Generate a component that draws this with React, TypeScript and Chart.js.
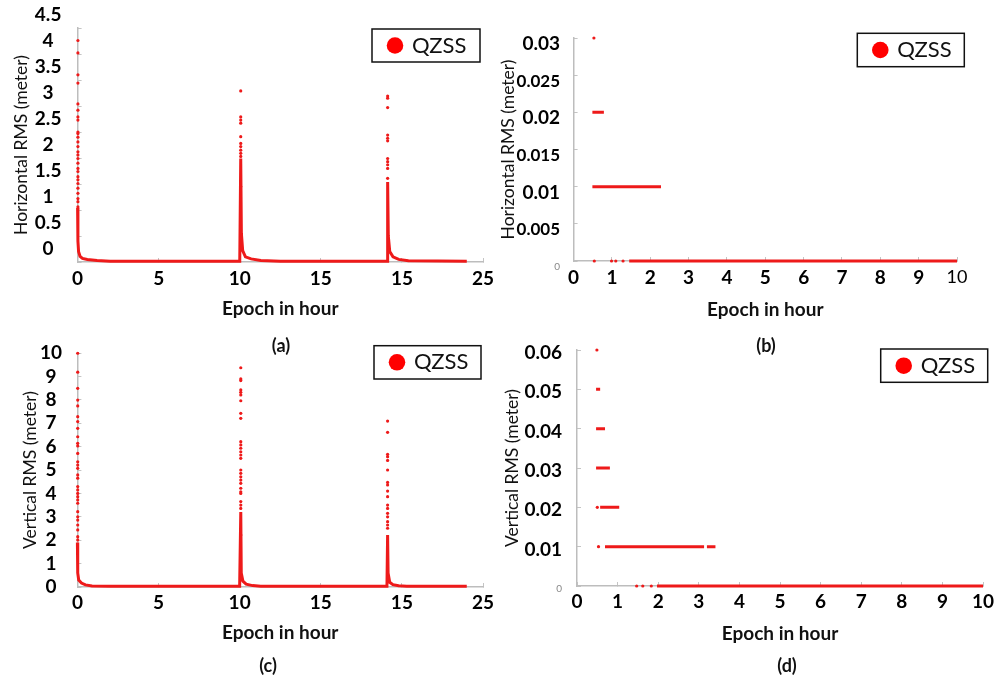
import React, { useEffect, useRef } from "react";
import { Chart, registerables } from "chart.js";

Chart.register(...registerables);

// ---------------- data ----------------
// shared x-axis ticks
const xTicksDay = [0, 5, 10, 15, 20, 25];
const xTickLabelsDay = ["0", "5", "10", "15", "15", "25"];
const xTicksTen = [0, 1, 2, 3, 4, 5, 6, 7, 8, 9, 10];
const xTickLabelsTen = ["0", "1", "2", "3", "4", "5", "6", "7", "8", "9", "10"];

// (a) Horizontal RMS, 24 h
const aYTicks = [0, 0.5, 1, 1.5, 2, 2.5, 3, 3.5, 4, 4.5];
const aYTickLabels = ["0", "0.5", "1", "1.5", "2", "2.5", "3", "3.5", "4", "4.5"];
const aCurveHours = [0, 0.02, 0.06, 0.15, 0.3, 0.6, 1.2, 2.0, 10.0, 10.06, 10.1, 10.18, 10.35, 10.7, 11.3, 12.5, 19.08, 19.12, 19.16, 19.25, 19.45, 19.8, 20.4, 24.0];
const aCurveValues = [1.04, 0.4, 0.2, 0.11, 0.07, 0.05, 0.03, 0.015, 0.015, 1.99, 0.55, 0.22, 0.1, 0.06, 0.03, 0.015, 0.015, 1.54, 0.5, 0.2, 0.1, 0.05, 0.025, 0.015];
const aSpikeHours = [0.02, 10.06, 19.12];
const aSpike0 = [4.26, 4.02, 3.6, 3.44, 3.04, 2.92, 2.79, 2.73, 2.5, 2.47, 2.4, 2.31, 2.22, 2.12, 2.06, 1.99, 1.9, 1.8, 1.74, 1.64, 1.58, 1.51, 1.42, 1.32, 1.22, 1.16, 1.06];
const aSpike1 = [3.29, 2.79, 2.73, 2.67, 2.41, 2.28, 2.22, 2.15, 2.09, 2.03, 1.45];
const aSpike2 = [3.19, 3.15, 2.97, 2.44, 2.38, 2.33, 1.99, 1.93, 1.87, 1.8, 1.61];

// (b) Horizontal RMS, first 10 h
const bYTicks = [0, 0.005, 0.01, 0.015, 0.02, 0.025, 0.03];
const bYTickLabels = ["0", "0.005", "0.01", "0.015", "0.02", "0.025", "0.03"];
const bSegLevels = [0.02, 0.01, 0];
const bSegStart = [0.49, 0.49, 1.45];
const bSegEnd = [0.79, 2.28, 10];
const bDotHours = [0.53, 0.54, 0.99, 1.1, 1.29];
const bDotValues = [0.03, 0, 0, 0, 0];

// (c) Vertical RMS, 24 h
const cYTicks = [0, 1, 2, 3, 4, 5, 6, 7, 8, 9, 10];
const cYTickLabels = ["0", "1", "2", "3", "4", "5", "6", "7", "8", "9", "10"];
const cCurveHours = [0, 0.02, 0.08, 0.25, 0.5, 0.9, 2.0, 10.0, 10.07, 10.1, 10.2, 10.4, 10.8, 11.3, 19.08, 19.12, 19.15, 19.25, 19.45, 19.8, 20.3, 24.0];
const cCurveValues = [1.9, 0.6, 0.3, 0.17, 0.09, 0.04, 0.03, 0.03, 3.2, 0.6, 0.25, 0.12, 0.06, 0.03, 0.03, 2.22, 0.6, 0.2, 0.1, 0.05, 0.03, 0.03];
const cSpikeHours = [0.02, 10.07, 19.12];
const cSpike0 = [9.99, 9.18, 8.49, 7.99, 7.74, 7.28, 7.07, 6.78, 6.42, 6.14, 6.03, 5.71, 5.35, 5.21, 5.07, 4.79, 4.65, 4.29, 4.15, 4.0, 3.86, 3.72, 3.58, 3.22, 3.0, 2.86, 2.65, 2.44, 2.15, 2.01];
const cSpike1 = [9.37, 8.89, 8.82, 8.42, 8.32, 8.21, 7.96, 7.42, 7.21, 6.21, 6.07, 5.93, 5.78, 5.64, 5.5, 5.0, 4.86, 4.71, 4.57, 4.43, 4.22, 4.07, 4.0, 3.65, 3.5, 3.36, 2.22];
const cSpike2 = [7.09, 6.61, 5.67, 5.57, 5.41, 5.0, 4.47, 4.36, 4.1, 3.86, 3.5, 3.36, 3.15, 3.0, 2.79, 2.65, 2.51];

// (d) Vertical RMS, first 10 h
const dYTicks = [0, 0.01, 0.02, 0.03, 0.04, 0.05, 0.06];
const dYTickLabels = ["0", "0.01", "0.02", "0.03", "0.04", "0.05", "0.06"];
const dSegLevels = [0.05, 0.04, 0.03, 0.02, 0.01, 0.01, 0];
const dSegStart = [0.47, 0.47, 0.47, 0.57, 0.69, 3.2, 1.97];
const dSegEnd = [0.57, 0.69, 0.81, 1.04, 3.13, 3.41, 10];
const dDotHours = [0.49, 0.5, 0.53, 1.47, 1.62, 1.83];
const dDotValues = [0.06, 0.02, 0.01, 0, 0, 0];

// ---------------- helpers ----------------
type Pt = { x: number; y: number | null };
const curve = (h: number[], v: number[]): Pt[] => h.map((x, i) => ({ x, y: v[i] }));
const spikes = (hours: number[], groups: number[][]): Pt[] =>
  groups.flatMap((g, i) => g.map((y) => ({ x: hours[i], y })));
const segments = (lv: number[], s: number[], e: number[]): Pt[] =>
  lv.flatMap((y, i) => [
    { x: s[i], y },
    { x: e[i], y },
    { x: e[i], y: null },
  ]);
const dots = (h: number[], v: number[]): Pt[] => h.map((x, i) => ({ x, y: v[i] }));

const RED = "#ee1a1a";
const FONT = "Lato, 'Open Sans', sans-serif";
const M = 40; // extra canvas margin so Chart.js never shrinks the plot area

type Box = { x: number; y: number; w: number; h: number };
type Cfg = {
  rect: Box;
  area: { l: number; t: number; r: number; b: number };
  xMax: number;
  xTicks: number[];
  xLabels: string[];
  xFont: (i: number) => any;
  yMax: number;
  yTicks: number[];
  yLabels: string[];
  yFont: (i: number) => any;
  yColor: (i: number) => string;
  yTitle: string;
  yTitlePad: number;
  yTickPad: number;
  yCross: "near" | "center";
  yLabelOffset: number;
  xTickPad: number;
  xTitlePad: number;
  line: Pt[];
  pts: Pt[];
  legend: Box;
};

const bold19 = { family: FONT, size: 19, weight: "bold" };
const bold17 = { family: FONT, size: 17, weight: "bold" };
const small0 = { family: FONT, size: 10, weight: "normal" };

const legendFrame = (box: Box) => ({
  id: "legendFrame",
  afterLayout(chart: any) {
    const lg = chart.legend;
    if (!lg) return;
    const p = lg.options.labels.padding;
    const w = lg.right - lg.left;
    const h = lg.bottom - lg.top;
    lg.left = box.x + 17 - p;
    lg.right = lg.left + w;
    lg.top = box.y + box.h / 2 - 11 - p;
    lg.bottom = lg.top + h;
  },
  afterDraw(chart: any) {
    const ctx = chart.ctx;
    ctx.save();
    ctx.strokeStyle = "#111";
    ctx.lineWidth = 1.5;
    ctx.strokeRect(box.x, box.y, box.w, box.h);
    ctx.restore();
  },
});

function canvasBox(c: Cfg): Box {
  return { x: c.rect.x - M, y: c.rect.y - M, w: c.rect.w + 2 * M, h: c.rect.h + 2 * M };
}

function makeChart(canvas: HTMLCanvasElement, c: Cfg) {
  const cb = canvasBox(c);
  const yW = c.area.l - c.rect.x;
  const xH = c.rect.y + c.rect.h - c.area.b;
  const padTop = M + (c.area.t - c.rect.y);
  const padRight = M + (c.rect.x + c.rect.w - c.area.r);
  const localLegend = { x: c.legend.x - cb.x, y: c.legend.y - cb.y, w: c.legend.w, h: c.legend.h };
  const grid = {
    display: true,
    drawOnChartArea: false,
    drawTicks: true,
    tickLength: -4,
    color: "#c4c4c4",
    lineWidth: 1,
  };
  const border = { display: true, color: "#bdbdbd", width: 1.5 };
  return new Chart(canvas, {
    type: "line",
    data: {
      datasets: [
        {
          label: "QZSS",
          data: c.line as any,
          borderColor: RED,
          backgroundColor: RED,
          borderWidth: 3,
          pointRadius: 0,
          pointStyle: "circle",
          spanGaps: false,
          tension: 0,
          fill: false,
          clip: 6,
        },
        {
          label: "QZSS points",
          data: c.pts as any,
          showLine: false,
          pointRadius: 1.6,
          pointBackgroundColor: RED,
          pointBorderWidth: 0,
          borderColor: RED,
          backgroundColor: RED,
          clip: 6,
        },
      ],
    },
    options: {
      responsive: false,
      animation: false,
      events: [],
      layout: { padding: { left: M, top: padTop, right: padRight, bottom: M } },
      plugins: {
        tooltip: { enabled: false },
        legend: {
          display: true,
          position: "chartArea",
          align: "start",
          labels: {
            usePointStyle: true,
            boxWidth: 12,
            boxHeight: 11.7,
            padding: 4,
            color: "#111",
            textAlign: "left",
            font: { family: FONT, size: 22 },
            generateLabels: (chart: any) =>
              (Chart.defaults.plugins.legend.labels.generateLabels as any)(chart)
                .filter((l: any) => l.datasetIndex === 0)
                .map((l: any) => ({ ...l, lineWidth: 0, fillStyle: "#ff0000", strokeStyle: "#ff0000", pointStyle: "circle" })),
          },
        },
      },
      scales: {
        x: {
          type: "linear",
          min: 0,
          max: c.xMax,
          afterBuildTicks: (s: any) => {
            s.ticks = c.xTicks.map((v) => ({ value: v }));
          },
          afterFit: (s: any) => {
            s.height = xH;
          },
          ticks: {
            autoSkip: false,
            maxRotation: 0,
            padding: c.xTickPad,
            color: "#000",
            font: (ctx: any) => c.xFont(ctx.index),
            callback: (_v: any, i: number) => c.xLabels[i],
          },
          grid,
          border,
          title: {
            display: true,
            text: "Epoch in hour",
            color: "#111",
            font: { family: FONT, size: 19, weight: "bold" },
            padding: { top: 0, bottom: c.xTitlePad },
          },
        },
        y: {
          type: "linear",
          min: 0,
          max: c.yMax,
          afterBuildTicks: (s: any) => {
            s.ticks = c.yTicks.map((v) => ({ value: v }));
          },
          afterFit: (s: any) => {
            s.width = yW;
          },
          ticks: {
            autoSkip: false,
            padding: c.yTickPad,
            crossAlign: c.yCross,
            labelOffset: c.yLabelOffset,
            color: (ctx: any) => c.yColor(ctx.index),
            font: (ctx: any) => c.yFont(ctx.index),
            callback: (_v: any, i: number) => c.yLabels[i],
          },
          grid,
          border,
          title: {
            display: true,
            text: c.yTitle,
            color: "#111",
            font: { family: FONT, size: 17.5 },
            padding: { top: c.yTitlePad, bottom: 0 },
          },
        },
      },
    } as any,
    plugins: [legendFrame(localLegend) as any],
  });
}

const panels: Cfg[] = [
  {
    rect: { x: 0, y: 0, w: 497, h: 330 },
    area: { l: 77.6, t: 28, r: 483, b: 262 },
    xMax: 25,
    xTicks: xTicksDay,
    xLabels: xTickLabelsDay,
    xFont: () => bold19,
    yMax: 4.5,
    yTicks: aYTicks,
    yLabels: aYTickLabels,
    yFont: () => bold19,
    yColor: () => "#000",
    yTitle: "Horizontal RMS (meter)",
    yTitlePad: 11,
    yTickPad: 20.2,
    yCross: "center",
    yLabelOffset: -13,
    xTickPad: 9.6,
    xTitlePad: 9.7,
    line: curve(aCurveHours, aCurveValues),
    pts: spikes(aSpikeHours, [aSpike0, aSpike1, aSpike2]),
    legend: { x: 372, y: 29, w: 108, h: 33 },
  },
  {
    rect: { x: 497, y: 0, w: 498, h: 330 },
    area: { l: 573.6, t: 38, r: 957, b: 261 },
    xMax: 10,
    xTicks: xTicksTen,
    xLabels: xTickLabelsTen,
    xFont: (i) => (i === 10 ? { family: FONT, size: 18, weight: "normal" } : bold19),
    yMax: 0.03,
    yTicks: bYTicks,
    yLabels: bYTickLabels,
    yFont: (i) => (i === 0 ? small0 : i % 2 === 1 ? bold17 : bold19),
    yColor: (i) => (i === 0 ? "#888" : "#000"),
    yTitle: "Horizontal RMS (meter)",
    yTitlePad: 0.5,
    yTickPad: 17.6,
    yCross: "near",
    yLabelOffset: 6,
    xTickPad: 9.6,
    xTitlePad: 8.7,
    line: segments(bSegLevels, bSegStart, bSegEnd),
    pts: dots(bDotHours, bDotValues),
    legend: { x: 857.3, y: 33.3, w: 107, h: 33.4 },
  },
  {
    rect: { x: 0, y: 330, w: 497, h: 347 },
    area: { l: 77.4, t: 353, r: 483, b: 587 },
    xMax: 25,
    xTicks: xTicksDay,
    xLabels: xTickLabelsDay,
    xFont: () => bold19,
    yMax: 10,
    yTicks: cYTicks,
    yLabels: cYTickLabels,
    yFont: () => bold19,
    yColor: () => "#000",
    yTitle: "Vertical RMS (meter)",
    yTitlePad: 19.5,
    yTickPad: 19.4,
    yCross: "center",
    yLabelOffset: 0,
    xTickPad: 8.6,
    xTitlePad: 32.7,
    line: curve(cCurveHours, cCurveValues),
    pts: spikes(cSpikeHours, [cSpike0, cSpike1, cSpike2]),
    legend: { x: 374, y: 345.7, w: 107, h: 33.3 },
  },
  {
    rect: { x: 497, y: 330, w: 498, h: 347 },
    area: { l: 577, t: 350, r: 983, b: 586 },
    xMax: 10,
    xTicks: xTicksTen,
    xLabels: xTickLabelsTen,
    xFont: () => bold19,
    yMax: 0.06,
    yTicks: dYTicks,
    yLabels: dYTickLabels,
    yFont: (i) => (i === 0 ? small0 : bold19),
    yColor: (i) => (i === 0 ? "#888" : "#000"),
    yTitle: "Vertical RMS (meter)",
    yTitlePad: 4.5,
    yTickPad: 19,
    yCross: "near",
    yLabelOffset: 3,
    xTickPad: 8.6,
    xTitlePad: 31.7,
    line: segments(dSegLevels, dSegStart, dSegEnd),
    pts: dots(dDotHours, dDotValues),
    legend: { x: 880.7, y: 349, w: 107, h: 33.3 },
  },
];

const panelTags = [
  { text: "(a)", x: 281, y: 345 },
  { text: "(b)", x: 766, y: 345 },
  { text: "(c)", x: 268, y: 665 },
  { text: "(d)", x: 787, y: 665 },
];

function Panel({ cfg }: { cfg: Cfg }) {
  const ref = useRef<HTMLCanvasElement | null>(null);
  const cb = canvasBox(cfg);
  useEffect(() => {
    if (!ref.current) return;
    const chart = makeChart(ref.current, cfg);
    return () => chart.destroy();
  }, [cfg]);
  return (
    <canvas
      ref={ref}
      width={cb.w}
      height={cb.h}
      style={{ position: "absolute", left: cb.x, top: cb.y, width: cb.w, height: cb.h }}
    />
  );
}

export default function App() {
  return (
    <div
      style={{
        position: "absolute",
        left: 0,
        top: 0,
        width: 995,
        height: 677,
        background: "#fff",
        overflow: "hidden",
      }}
    >
      {panels.map((p, i) => (
        <Panel key={i} cfg={p} />
      ))}
      {panelTags.map((t) => (
        <div
          key={t.text}
          style={{
            position: "absolute",
            left: t.x,
            top: t.y,
            transform: "translate(-50%, -50%)",
            fontFamily: FONT,
            fontWeight: "bold",
            fontSize: 18,
            color: "#111",
            lineHeight: 1,
            whiteSpace: "nowrap",
          }}
        >
          {t.text}
        </div>
      ))}
    </div>
  );
}
